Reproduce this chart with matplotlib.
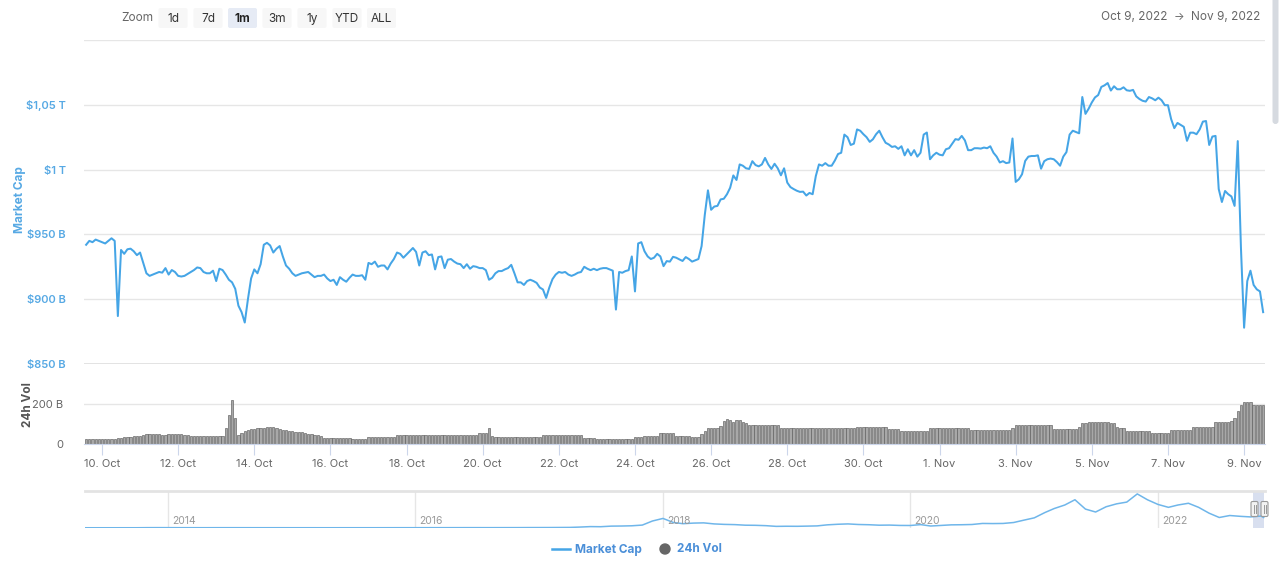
import numpy as np
import matplotlib.pyplot as plt
import matplotlib.dates as mdates
from matplotlib.patches import FancyBboxPatch, Circle
from matplotlib.lines import Line2D

plt.rcParams['font.family'] = ['Inter', 'DejaVu Sans']

# Datos: capitalizacion total (miles de millones USD), cada 2 horas desde el 9 oct 14:00
t_start = np.datetime64('2022-10-09T14:00')
market_cap_b = [
    942, 945, 944, 946, 945, 944, 943, 945, 947, 945,
    887, 938, 935, 938.5, 939, 937, 934, 936, 928, 920,
    918, 919, 920, 921, 920.5, 924, 919, 922.5, 921, 918,
    917.5, 918, 919.5, 921, 922.5, 924.5, 924, 921, 920, 920,
    922, 914, 923.5, 922.5, 919, 915, 913, 908, 895, 890,
    882, 900, 916, 923, 920, 927, 942, 943.5, 941.5, 936,
    939, 941, 933, 926, 923.5, 920, 918, 919, 920, 920.5,
    921, 919, 917, 918, 918, 919, 916, 914, 915, 911,
    917, 915, 913.5, 916.5, 919, 918, 918, 918.5, 915, 928,
    927, 929, 925,
    926, 926, 923, 927.5, 931, 936, 935, 932, 934.5, 937,
    939.5, 936.5, 926, 936, 937, 934, 934.5, 923, 932.5, 933,
    924, 930.5, 931, 929, 927.5, 927, 924, 927, 923.5, 925.5,
    925, 924, 924, 922.4, 915, 916.5, 920, 921.7, 921.7, 923,
    924, 926.5, 920, 913, 913, 911, 914, 915, 914, 912.6,
    909, 907.5, 901, 909, 915.5, 919, 921, 920.4, 921, 919,
    918, 919, 920.4, 921, 925, 923.5, 922.4, 923.5, 922.4, 923.5,
    924, 924, 923, 922, 892, 921, 920.4, 921.7, 922.4, 933,
    906, 943, 944, 937, 933, 931, 932, 935, 933, 925.5,
    929.4, 929, 932.7,
    932, 930.7, 929.5, 932.5, 931, 929, 930, 931, 941, 965,
    984, 969, 971.5, 972, 977, 977.5, 981, 986, 995.5, 992,
    1004, 1003, 1001, 1000.5, 1006.5, 1003.5, 1002.5, 1004, 1009, 1004,
    1000.5, 1004.5, 1001, 995.6, 1001, 990, 986.5, 985, 983.7, 982.8,
    983, 980, 982, 981, 995, 1004, 1003, 1005, 1003, 1003,
    1007, 1012, 1013, 1027, 1025, 1019, 1020, 1031, 1030, 1027.3,
    1025, 1021.4, 1023.4, 1027.3, 1030, 1025, 1020.7, 1019.4, 1017.5, 1018,
    1016, 1018, 1011, 1015.7, 1011, 1015, 1010, 1013, 1027, 1028.6,
    1008, 1011, 1013, 1011.5, 1011, 1015.7, 1016.5, 1020, 1023.5, 1023,
    1026, 1022.5, 1015,
    1015, 1016.5, 1016.5, 1016.2, 1017, 1016.5, 1018, 1013, 1010, 1005.5,
    1006.5, 1005, 1005.5, 1024, 990.5, 992.5, 996.4, 1006.7, 1010, 1010.5,
    1010.5, 1011, 1000.7, 1006.5, 1008, 1008.5, 1008, 1005.8, 1003, 1010,
    1013.5, 1027, 1030, 1029, 1028, 1056, 1043, 1047, 1051.8, 1055.7,
    1057.5, 1063.8, 1065, 1066.8, 1061, 1064.3, 1062, 1062, 1063.5, 1061.2,
    1060.8, 1061.5, 1056.5, 1054.5, 1053.1, 1052.5, 1056, 1055, 1053.5, 1055.5,
    1053.5, 1049.7, 1049.7, 1039, 1032, 1036, 1034.5, 1033, 1022.2, 1028.5,
    1028.5, 1027.3, 1031, 1037, 1037.5, 1019, 1025.5, 1026, 985, 975,
    983.5, 981, 979.3, 972, 1022, 940, 878, 914, 922, 911,
    907.6, 906, 890,
]

# Volumen 24h (miles de millones USD), misma malla de 2 horas
volume_b = [
    25, 25, 26, 25, 25, 25, 26, 25, 25, 26,
    32, 32, 33, 37, 37, 38, 42, 42, 43, 50,
    50, 51, 50, 50, 45, 45, 50, 50, 51, 50,
    50, 45, 45, 40, 40, 40, 41, 40, 40, 40,
    40, 41, 40, 40, 80, 145, 218, 128, 45, 57,
    65, 72, 74, 77, 78, 80, 82, 83, 83, 83,
    82, 75, 72, 68, 66, 63, 61, 59, 58, 55,
    52, 49, 47, 43, 40, 30, 28, 28, 28, 28,
    28, 28, 28, 28, 23, 23, 23, 23, 23, 35,
    35, 35, 35,
    33, 33, 33, 33, 33, 45, 45, 45, 45, 46,
    45, 44, 45, 45, 46, 45, 45, 44, 45, 45,
    46, 45, 45, 45, 44, 45, 45, 46, 45, 45,
    45, 57, 57, 57, 78, 40, 37, 37, 37, 37,
    37, 37, 37, 37, 37, 37, 37, 37, 37, 37,
    37, 45, 45, 45, 45, 45, 45, 45, 45, 45,
    45, 45, 45, 45, 32, 32, 32, 32, 25, 25,
    25, 25, 25, 25, 25, 25, 25, 25, 25, 25,
    33, 33, 33, 42, 42, 42, 42, 42, 53, 53,
    53, 53, 53,
    40, 40, 40, 40, 40, 35, 35, 35, 50, 65,
    78, 78, 78, 78, 90, 117, 123, 120, 112, 118,
    120, 110, 105, 95, 95, 95, 95, 95, 95, 95,
    95, 95, 95, 82, 82, 82, 82, 82, 82, 82,
    82, 82, 82, 82, 82, 82, 82, 82, 82, 82,
    82, 82, 82, 82, 82, 82, 82, 87, 87, 87,
    87, 87, 87, 87, 87, 87, 87, 73, 73, 73,
    73, 67, 67, 67, 67, 67, 67, 67, 67, 67,
    80, 80, 80, 80, 80, 80, 80, 80, 80, 80,
    80, 80, 80,
    70, 70, 70, 70, 70, 70, 70, 70, 70, 70,
    70, 70, 70, 80, 95, 95, 95, 95, 95, 95,
    95, 95, 95, 95, 95, 95, 73, 73, 73, 73,
    73, 73, 73, 73, 85, 105, 107, 108, 110, 112,
    112, 112, 110, 108, 107, 105, 87, 78, 78, 67,
    67, 67, 67, 67, 67, 67, 67, 53, 53, 53,
    53, 53, 53, 70, 70, 70, 70, 70, 70, 70,
    83, 83, 83, 83, 83, 83, 83, 112, 112, 112,
    112, 112, 115, 128, 165, 195, 208, 208, 208, 195,
    195, 195, 195,
]

# Navegador: capitalizacion mensual (billones USD), mayo 2013 a nov 2022 + 9 nov 2022
nav_cap_t = [
    0.001, 0.001, 0.001, 0.001, 0.002, 0.002, 0.010, 0.012,
    0.010, 0.008, 0.007, 0.006, 0.006, 0.008, 0.008, 0.007, 0.006, 0.005, 0.005, 0.005,
    0.004, 0.004, 0.004, 0.003, 0.003, 0.004, 0.004, 0.004, 0.004, 0.005, 0.006, 0.007,
    0.007, 0.008, 0.009, 0.009, 0.010, 0.011, 0.011, 0.010, 0.011, 0.012, 0.013, 0.017,
    0.018, 0.020, 0.025, 0.030, 0.060, 0.100, 0.090, 0.140, 0.150, 0.170, 0.230, 0.580,
    0.800, 0.450, 0.350, 0.400, 0.420, 0.330, 0.290, 0.270, 0.220, 0.210, 0.180, 0.120,
    0.130, 0.125, 0.140, 0.160, 0.250, 0.300, 0.330, 0.280, 0.260, 0.220, 0.230, 0.200,
    0.195, 0.270, 0.150, 0.200, 0.250, 0.260, 0.280, 0.370, 0.360, 0.370, 0.450, 0.650,
    0.850, 1.300, 1.650, 1.950, 2.400, 1.600, 1.350, 1.800, 2.050, 2.200, 2.900, 2.400,
    2.000, 1.750, 1.950, 2.100, 1.750, 1.250, 0.880, 1.050, 0.980, 0.930, 1.000,
    0.880,
]

range_text = ['Oct 9, 2022', '\u2192', 'Nov 9, 2022']
zoom_buttons = ['1d', '7d', '1m', '3m', '1y', 'YTD', 'ALL']
cap_ticks = [850, 900, 950, 1000, 1050, 1100]
cap_labels = ['$850 B', '$900 B', '$950 B', '$1 T', '$1,05 T', '']
vol_ticks = [0, 200]
vol_labels = ['0', '200 B']
nav_years = [2014, 2016, 2018, 2020, 2022]

LINE = '#45a5e6'
BLUE_TXT = '#57a9e4'
GRID = '#e6e6e6'
AXIS = '#ccd6eb'

W, H = 1280, 561


def box(x0, y0, x1, y1):
    """Caja en pixeles (origen arriba-izquierda) -> coordenadas de figura."""
    return [x0 / W, 1 - y1 / H, (x1 - x0) / W, (y1 - y0) / H]


times = t_start + np.arange(len(market_cap_b)) * np.timedelta64(2, 'h')
oct10 = mdates.date2num(np.datetime64('2022-10-10T00:00'))
px_day = 38.07
xlim = (oct10 - 18 / px_day, oct10 + (1265 - 102) / px_day)

fig = plt.figure(figsize=(12.8, 5.61), dpi=100)

# Panel principal: capitalizacion
ax = fig.add_axes(box(84, 40, 1265, 364))
ax.plot(times, market_cap_b, color=LINE, lw=1.45, zorder=3)
ax.set_xlim(xlim)
ax.set_ylim(850, 1100)
ax.set_yticks(cap_ticks)
ax.set_yticklabels(cap_labels)
ax.grid(axis='y', color=GRID, lw=1)
ax.axhline(850, color='#e0e0e0', lw=2, zorder=1)
ax.set_xticks([])
ax.tick_params(axis='y', length=0, pad=13, labelcolor=BLUE_TXT, labelsize=8)
for lbl in ax.get_yticklabels():
    lbl.set_fontweight('semibold')
for s in ax.spines.values():
    s.set_visible(False)

# Panel de volumen
axv = fig.add_axes(box(84, 384, 1265, 444))
axv.bar(times, volume_b, width=0.06, color='#a8a8a8', edgecolor='#5e5e5e', linewidth=0.45,
        align='center', zorder=2)
axv.set_xlim(xlim)
axv.set_ylim(0, 300)
axv.set_yticks(vol_ticks)
axv.set_yticklabels(vol_labels)
axv.axhline(200, color=GRID, lw=1, zorder=0)
for name, s in axv.spines.items():
    s.set_visible(name == 'bottom')
axv.spines['bottom'].set_color(AXIS)
tick_days = np.arange(np.datetime64('2022-10-10'), np.datetime64('2022-11-10'), np.timedelta64(2, 'D'))
axv.set_xticks(tick_days)
axv.set_xticklabels([f"{d.astype(object).day}. {d.astype(object).strftime('%b')}" for d in tick_days])
axv.tick_params(axis='x', length=8, color=AXIS, labelcolor='#666666', labelsize=8, pad=3)
axv.tick_params(axis='y', length=0, pad=15, labelcolor='#666666', labelsize=8)

# Navegador
nav_dates = np.concatenate([
    np.arange(np.datetime64('2013-05'), np.datetime64('2022-12'), np.timedelta64(1, 'M')).astype('datetime64[D]'),
    np.array(['2022-11-09'], dtype='datetime64[D]'),
])
axn = fig.add_axes(box(85, 491, 1265, 528))
axn.plot(nav_dates, nav_cap_t, color='#6fb6ea', lw=1.1)
axn.set_xlim(mdates.date2num(np.datetime64('2013-05-01')), mdates.date2num(np.datetime64('2022-11-13')))
axn.set_ylim(-0.02, 3.15)
axn.set_xticks([])
axn.set_yticks([])
for name, s in axn.spines.items():
    s.set_visible(name == 'top')
axn.spines['top'].set_color('#e3e3e3')
axn.spines['top'].set_linewidth(2)
for yr in nav_years:
    d = mdates.date2num(np.datetime64(f'{yr}-01-01'))
    axn.axvline(d, color=GRID, lw=1, zorder=0)
    axn.text(d + 12, 0.2, str(yr), color='#999999', fontsize=7.5,
             transform=axn.get_xaxis_transform(), va='center')
axn.axvspan(mdates.date2num(np.datetime64('2022-10-09')), mdates.date2num(np.datetime64('2022-11-09')),
            color='#d4dcee', alpha=0.9, zorder=1, lw=0)

# Capa de interfaz (pixeles)
ui = fig.add_axes([0, 0, 1, 1])
ui.set_xlim(0, W)
ui.set_ylim(H, 0)
ui.axis('off')
ui.patch.set_alpha(0)

ui.text(137, 18, 'Zoom', color='#666666', fontsize=8.5, ha='center', va='center')
btn_x = [173, 208, 242.5, 277, 312, 347, 381.5]
for label, cx in zip(zoom_buttons, btn_x):
    active = label == '1m'
    ui.add_patch(FancyBboxPatch((cx - 14.5, 8), 29, 20, boxstyle='round,pad=0,rounding_size=2',
                                fc='#e6ebf5' if active else '#f7f7f7', ec='none'))
    ui.text(cx, 18.5, label, color='#222222' if active else '#333333', fontsize=8.5,
            fontweight='bold' if active else 'normal', ha='center', va='center')

ui.text(1101, 17, range_text[0], color='#666666', fontsize=8.5, ha='left', va='center')
ui.text(1179, 17, range_text[1], color='#666666', fontsize=8, ha='center', va='center')
ui.text(1260, 17, range_text[2], color='#666666', fontsize=8.5, ha='right', va='center')

fig.text(20 / W, 1 - 200 / H, 'Market Cap', rotation=90, color=BLUE_TXT, fontsize=8.5,
         fontweight='bold', ha='center', va='center')
fig.text(28 / W, 1 - 405 / H, '24h Vol', rotation=90, color='#555555', fontsize=8.5,
         fontweight='bold', ha='center', va='center')

# Asas del navegador
for hx in (1254.5, 1264.5):
    ui.add_patch(FancyBboxPatch((hx - 3.5, 501.5), 7, 15, boxstyle='round,pad=0,rounding_size=1.5',
                                fc='#f2f2f2', ec='#999999', lw=0.8, zorder=5))
    ui.add_line(Line2D([hx - 1, hx - 1], [505, 513], color='#999999', lw=0.7, zorder=6))
    ui.add_line(Line2D([hx + 1, hx + 1], [505, 513], color='#999999', lw=0.7, zorder=6))

# Barra de desplazamiento
ui.add_patch(FancyBboxPatch((1272.5, -5), 6, 129, boxstyle='round,pad=0,rounding_size=3',
                            fc='#d6dae0', ec='none'))

# Leyenda
ui.add_line(Line2D([552, 570], [549, 549], color=LINE, lw=1.8))
ui.text(575, 549.5, 'Market Cap', color='#4b8fd8', fontsize=8.5, fontweight='bold', va='center')
ui.add_patch(Circle((665, 549), 5, color='#666666'))
ui.text(677, 549.5, '24h Vol', color='#4b8fd8', fontsize=8.5, fontweight='bold', va='center')

fig.savefig('out.png', dpi=100)
